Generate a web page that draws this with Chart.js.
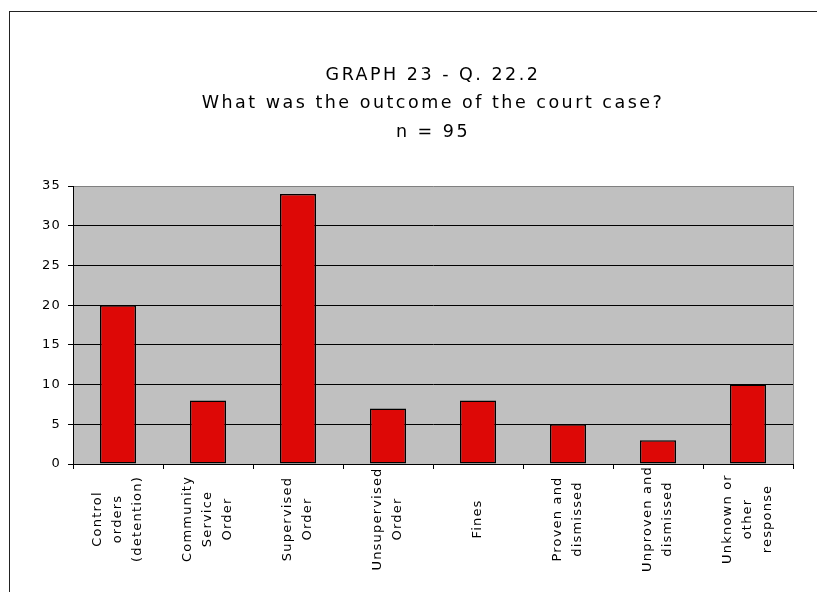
<!DOCTYPE html>
<html>
<head>
<meta charset="utf-8">
<script src="https://cdn.jsdelivr.net/npm/chart.js@4/dist/chart.umd.min.js"></script>
<style>
    html, body { margin: 0; padding: 0; background: #fff; overflow: hidden; }
    #frame { position: absolute; left: 9px; top: 11px; width: 900px; height: 700px;
             border-left: 1px solid #222; border-top: 1px solid #222; }
    #chart { position: absolute; left: 0; top: 0; }
</style>
</head>
<body>
<div id="frame"></div>
<canvas id="chart" width="817" height="592"></canvas>
<script>
// Chart data
const categories = [
    ['Control', 'orders', '(detention)'],
    ['Community', 'Service', 'Order'],
    ['Supervised', 'Order'],
    ['Unsupervised', 'Order'],
    ['Fines'],
    ['Proven and', 'dismissed'],
    ['Unproven and', 'dismissed'],
    ['Unknown or', 'other', 'response']
];
const counts = [20, 8, 34, 7, 8, 5, 3, 10];
const yTicks = [0, 5, 10, 15, 20, 25, 30, 35];
const titleLines = ['GRAPH 23 - Q. 22.2', 'What was the outcome of the court case?', 'n = 95'];

const FONT = 'DejaVu Sans';

// Plot area background, grey border and letter spacing for the title
const plotArea = {
    id: 'plotArea',
    beforeDraw(chart) {
        const { ctx, chartArea: a } = chart;
        ctx.save();
        ctx.fillStyle = '#c0c0c0';
        ctx.fillRect(a.left, a.top, a.right - a.left, a.bottom - a.top);
        ctx.strokeStyle = '#808080';
        ctx.lineWidth = 1;
        ctx.beginPath();
        ctx.moveTo(a.right + 0.5, a.top);
        ctx.lineTo(a.right + 0.5, a.bottom);
        ctx.stroke();
        ctx.restore();
        ctx.letterSpacing = '2.5px';
    },
    afterDatasetsDraw(chart) {
        chart.ctx.letterSpacing = '1.2px';
    }
};

// Rotated, centred multi-line category labels
const xLabels = {
    id: 'xLabels',
    afterDraw(chart) {
        const { ctx } = chart;
        const xs = chart.scales.x;
        ctx.save();
        ctx.letterSpacing = '1.2px';
        ctx.fillStyle = '#000';
        ctx.font = '13px "' + FONT + '"';
        ctx.textAlign = 'center';
        ctx.textBaseline = 'middle';
        categories.forEach((lines, i) => {
            const x = xs.getPixelForValue(i);
            ctx.save();
            ctx.translate(x, 519);
            ctx.rotate(-Math.PI / 2);
            lines.forEach((line, j) => {
                ctx.fillText(line, 0, (j - (lines.length - 1) / 2) * 20);
            });
            ctx.restore();
        });
        ctx.restore();
    }
};

new Chart(document.getElementById('chart'), {
    type: 'bar',
    data: {
        labels: categories,
        datasets: [{
            data: counts,
            backgroundColor: '#dd0806',
            borderColor: '#000',
            borderWidth: 1.5,
            borderSkipped: false,
            barPercentage: 0.4,
            categoryPercentage: 1
        }]
    },
    options: {
        responsive: false,
        devicePixelRatio: 1,
        animation: false,
        layout: { padding: { left: 10, right: 24, top: 0, bottom: 0 } },
        plugins: {
            legend: { display: false },
            tooltip: { enabled: false },
            title: {
                display: true,
                fullSize: false,
                text: titleLines,
                color: '#000',
                font: { family: FONT, size: 17.5, weight: 'normal', lineHeight: '28.5px' },
                padding: { top: 61, bottom: 39.5 }
            }
        },
        scales: {
            x: {
                offset: true,
                grid: { offset: true, drawOnChartArea: false, drawTicks: true, tickLength: 5, color: '#000' },
                border: { display: true, color: '#000', width: 1 },
                ticks: { display: false },
                afterFit(scale) { scale.height = 128; }
            },
            y: {
                min: 0,
                max: 35,
                afterBuildTicks(scale) { scale.ticks = yTicks.map(v => ({ value: v })); },
                grid: {
                    color: ctx => (ctx.tick && ctx.tick.value === 35 ? '#808080' : '#000'),
                    tickLength: 5,
                    tickColor: '#000'
                },
                border: { display: true, color: '#000', width: 1 },
                ticks: {
                    z: 1,
                    color: '#000',
                    padding: 7,
                    font: { family: FONT, size: 13 }
                },
                afterFit(scale) { scale.width = 63; }
            }
        }
    },
    plugins: [plotArea, xLabels]
});
</script>
</body>
</html>
